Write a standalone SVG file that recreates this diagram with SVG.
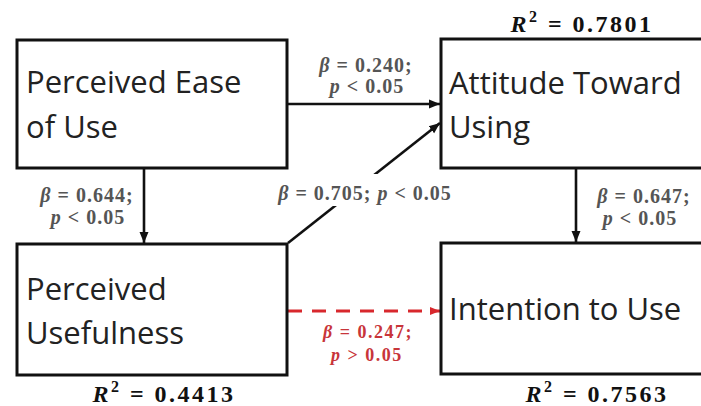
<svg xmlns="http://www.w3.org/2000/svg" width="701" height="406" viewBox="0 0 701 406">
<style>
.box{fill:#fff;stroke:#111;stroke-width:3}
.nt{font-family:"Open Sans","Noto Sans",sans-serif;font-size:31px;fill:#222}
.lb{font-family:"Liberation Serif",serif;font-size:20px;font-weight:bold;fill:#555;text-anchor:middle;letter-spacing:1px}
.rl{font-family:"Liberation Serif",serif;font-size:18px;font-weight:bold;fill:#c8353a;text-anchor:middle;letter-spacing:1.5px}
.r2{font-family:"Liberation Serif",serif;font-size:24px;font-weight:bold;fill:#111;text-anchor:middle;letter-spacing:2.5px}
.c{stroke:#111;stroke-width:2.6;fill:none}
.d{stroke:#d8282d;stroke-width:3;fill:none;stroke-dasharray:14 10}
</style>
<defs>
<marker id="ah" markerUnits="userSpaceOnUse" markerWidth="12" markerHeight="12" viewBox="0 0 12 12" refX="11" refY="6" orient="auto">
<path d="M0,1.5 L11,6 L0,10.5 Z" fill="#111"/>
</marker>
<marker id="ahr" markerUnits="userSpaceOnUse" markerWidth="12" markerHeight="12" viewBox="0 0 12 12" refX="11" refY="6" orient="auto">
<path d="M1,2 L11,6 L1,10 Z" fill="#d8282d"/>
</marker>
</defs>
<rect width="701" height="406" fill="#fff"/>
<g id="connectors">
<line class="c" x1="288" y1="104" x2="440" y2="104" marker-end="url(#ah)"/>
<line class="c" x1="144" y1="169" x2="144" y2="243" marker-end="url(#ah)"/>
<line class="c" x1="288" y1="243" x2="440" y2="123" marker-end="url(#ah)"/>
<line class="c" x1="576" y1="169" x2="576" y2="242" marker-end="url(#ah)"/>
<line class="d" x1="288" y1="311" x2="432" y2="311"/>
<line stroke="#d8282d" stroke-width="3" x1="432" y1="311" x2="440" y2="311" marker-end="url(#ahr)"/>
<rect x="272" y="174" width="184" height="32" fill="#fff"/>
<text class="lb" x="366" y="72"><tspan font-style="italic">β</tspan> = 0.240;</text>
<text class="lb" x="367" y="93"><tspan font-style="italic">p</tspan> &lt; 0.05</text>
<text class="lb" x="87" y="202"><tspan font-style="italic">β</tspan> = 0.644;</text>
<text class="lb" x="88" y="224"><tspan font-style="italic">p</tspan> &lt; 0.05</text>
<text class="lb" x="365" y="200"><tspan font-style="italic">β</tspan> = 0.705; <tspan font-style="italic">p</tspan> &lt; 0.05</text>
<text class="lb" x="644" y="203"><tspan font-style="italic">β</tspan> = 0.647;</text>
<text class="lb" x="640" y="225"><tspan font-style="italic">p</tspan> &lt; 0.05</text>
<text class="rl" x="368" y="338"><tspan font-style="italic">β</tspan> = 0.247;</text>
<text class="rl" x="367" y="361"><tspan font-style="italic">p</tspan> &gt; 0.05</text>
</g>
<g id="peou">
<rect class="box" x="17" y="40" width="270" height="128"/>
<text class="nt" x="26" y="93">Perceived Ease</text>
<text class="nt" x="26" y="138">of Use</text>
</g>
<g id="atu">
<rect class="box" x="441" y="39" width="275" height="129"/>
<text class="nt" x="449" y="94">Attitude Toward</text>
<text class="nt" x="449" y="138">Using</text>
<text class="r2" x="582" y="32"><tspan font-style="italic">R</tspan><tspan font-size="16" dy="-10">2</tspan><tspan dy="10"> = 0.7801</tspan></text>
</g>
<g id="pu">
<rect class="box" x="17" y="244" width="270" height="131"/>
<text class="nt" x="26" y="300">Perceived</text>
<text class="nt" x="26" y="344">Usefulness</text>
<text class="r2" x="164" y="402"><tspan font-style="italic">R</tspan><tspan font-size="16" dy="-10">2</tspan><tspan dy="10"> = 0.4413</tspan></text>
</g>
<g id="itu">
<rect class="box" x="441" y="243" width="275" height="131"/>
<text class="nt" x="449" y="320">Intention to Use</text>
<text class="r2" x="597" y="402"><tspan font-style="italic">R</tspan><tspan font-size="16" dy="-10">2</tspan><tspan dy="10"> = 0.7563</tspan></text>
</g>
</svg>
